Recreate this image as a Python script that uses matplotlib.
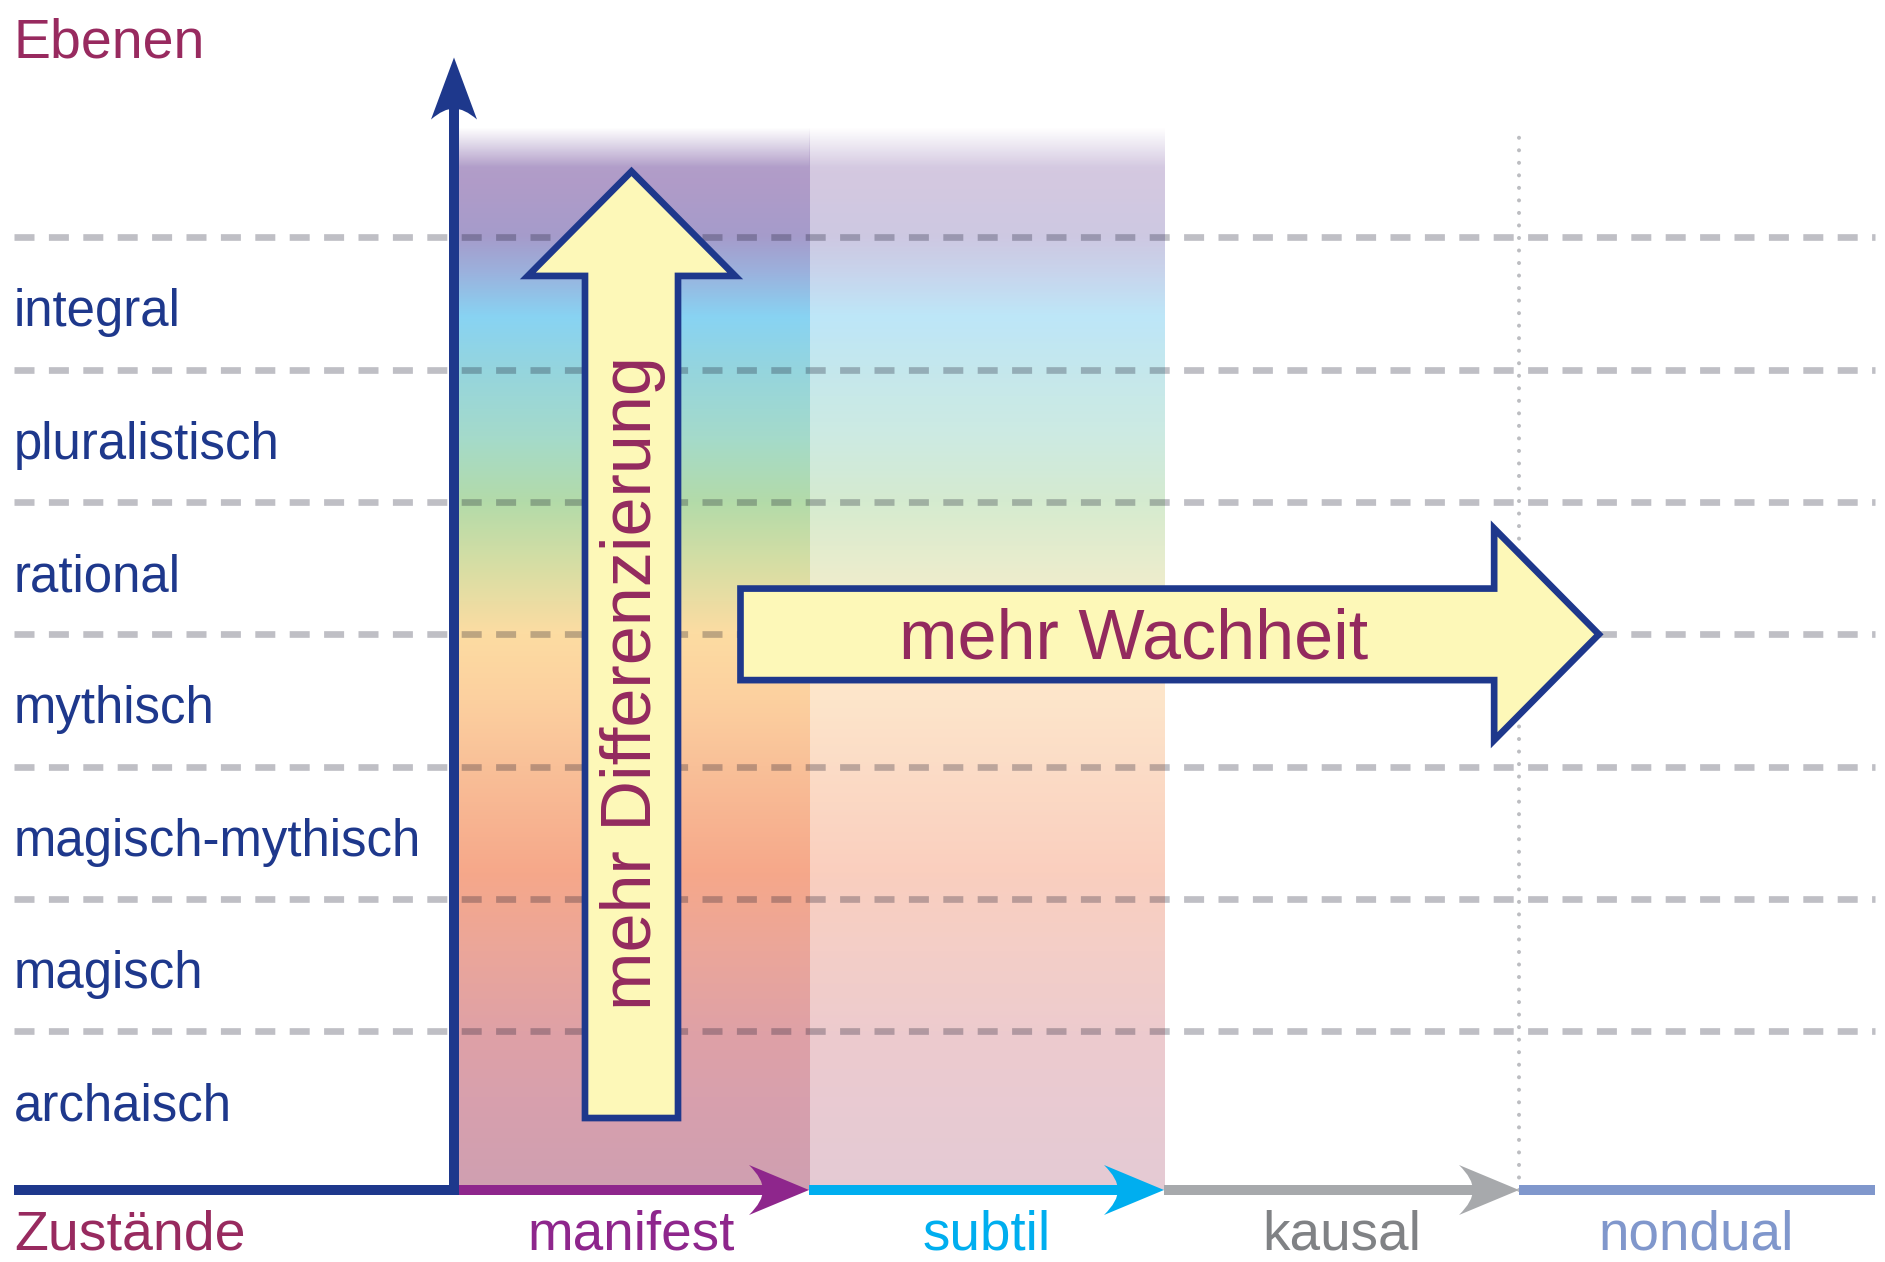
import numpy as np
import matplotlib
matplotlib.use("Agg")
import matplotlib.pyplot as plt
from matplotlib.patches import Polygon, PathPatch
from matplotlib.path import Path
from matplotlib.colors import to_rgb

# ---------------- data ----------------
levels = ["archaisch", "magisch", "magisch-mythisch", "mythisch",
          "rational", "pluralistisch", "integral"]
states = ["manifest", "subtil", "kausal", "nondual"]
state_line_colors = ["#8e268c", "#00aeef", "#a7a9ac", "#8097cc"]
state_text_colors = ["#8e268c", "#00aeef", "#808285", "#8097cc"]
state_has_head = [True, True, True, False]
state_shading = [1.0, 0.55, 0.0, 0.0]      # opacity of the level colour band per state
y_title = "Ebenen"
x_title = "Zustände"
up_text = "mehr Differenzierung"
right_text = "mehr Wachheit"

# colour of the level spectrum (position on level axis, colour)
grad_pos = [-0.2, 0.5, 1.0, 1.6, 2.2, 3.0, 3.5, 4.0, 4.5, 5.0, 5.5, 6.0, 6.4, 6.75, 7.0, 7.4, 7.85]
grad_col = ["#cf9fb1", "#d8a0ad", "#dfa1a6", "#eba69a", "#f6a88a", "#f9c098", "#fcd09f",
            "#fddca2", "#d8dea4", "#b3dba9", "#a4dacb", "#95d5de", "#88d3f3", "#9cb0dc",
            "#a59ccb", "#b09bc8", "#b5a4cc"]

# ---------------- style ----------------
FONT = "Liberation Sans"
plt.rcParams["font.family"] = [FONT, "DejaVu Sans"]
BLUE = "#1e388c"
MAROON = "#982a5f"
YELLOW = "#fdf8b8"
AXIS_LW = 7.2
OUTLINE_LW = 4.8

W, H = 1885, 1262
fig = plt.figure(figsize=(W / 100, H / 100), dpi=100)
ax = fig.add_axes([0, 0, 1, 1])
SX, SY = 355.0, 132.3          # pixels per unit (x: state, y: level)
x0_px, y0_px = 454.0, 1190.0   # pixel position of origin (axis corner)
Y_BASE = -0.2
ax.set_xlim(-x0_px / SX, (W - x0_px) / SX)
ax.set_ylim(Y_BASE - (H - y0_px) / SY, Y_BASE + y0_px / SY)
ax.axis("off")

X_LEFT = -1.24
X_RIGHT = 4.003
n_levels = len(levels)
n_states = len(states)


def head_path(tip, direction, L, w, d):
    """Arrow head with curved back; L, w, d in pixels."""
    pts = [(0, 0), (-L, w), (-L + d, 0.45 * w), (-L + d, 0),
           (-L + d, -0.45 * w), (-L, -w), (0, 0)]
    codes = [Path.MOVETO, Path.LINETO, Path.CURVE3, Path.CURVE3,
             Path.CURVE3, Path.CURVE3, Path.CLOSEPOLY]
    out = []
    for u, v in pts:
        if direction == "right":
            out.append((tip[0] + u / SX, tip[1] + v / SY))
        else:
            out.append((tip[0] + v / SX, tip[1] + u / SY))
    return Path(out, codes)


# ---------- colour bands ----------
y_top = 7.83
ys = np.linspace(Y_BASE, y_top, 900)
rgb = np.array([to_rgb(c) for c in grad_col])
band = np.stack([np.interp(ys, grad_pos, rgb[:, k]) for k in range(3)], axis=1)
fade = np.clip((y_top - ys) / 0.3, 0, 1)
for i, s in enumerate(state_shading):
    if s <= 0:
        continue
    img = np.ones((len(ys), 1, 4))
    img[:, 0, :3] = band
    img[:, 0, 3] = fade * s
    ax.imshow(img, extent=(i, i + 1, Y_BASE, y_top), origin="lower",
              aspect="auto", interpolation="bilinear", zorder=1)

# ---------- dashed level boundaries ----------
for k in range(1, n_levels + 1):
    ax.plot([X_LEFT, X_RIGHT], [k, k], color="#14142a", alpha=0.27, lw=4.8,
            ls=(0, (3.0, 2.16)), dash_capstyle="butt", zorder=2)

# ---------- dotted separator before nondual ----------
ax.plot([3, 3], [Y_BASE, 7.79], color="#bcbdc1", lw=2.9,
        ls=(0, (0.01, 3.1)), dash_capstyle="round", zorder=2)

# ---------- axes ----------
axis_top = 8.36
ax.plot([X_LEFT, 0, 0], [Y_BASE, Y_BASE, axis_top - 50 / SY], color=BLUE, lw=AXIS_LW,
        solid_joinstyle="miter", solid_capstyle="butt", zorder=4)
ax.add_patch(PathPatch(head_path((0, axis_top), "up", 62, 23, 11),
                       facecolor=BLUE, edgecolor="none", zorder=4))

for i, (c, hh) in enumerate(zip(state_line_colors, state_has_head)):
    x_start = i + (5 / SX if i == 0 else 0)
    x_end = i + 1 if hh else X_RIGHT
    ax.plot([x_start, x_end - (40 / SX if hh else 0)], [Y_BASE, Y_BASE], color=c,
            lw=AXIS_LW, solid_capstyle="butt", zorder=4)
    if hh:
        ax.add_patch(PathPatch(head_path((i + 1, Y_BASE), "right", 60, 25, 14),
                               facecolor=c, edgecolor="none", zorder=4))

# ---------- big yellow arrows ----------
cx, sw, hw = 0.5, 0.131, 0.292
yb, yh, yt = 0.344, 6.709, 7.499
up = [(cx - sw, yb), (cx + sw, yb), (cx + sw, yh), (cx + hw, yh), (cx, yt),
      (cx - hw, yh), (cx - sw, yh)]
ax.add_patch(Polygon(up, closed=True, facecolor=YELLOW, edgecolor=BLUE, lw=OUTLINE_LW,
                     joinstyle="miter", zorder=5))
ax.text(cx + 0.005, 3.629, up_text, rotation=90, fontsize=50.5, color="#932a5e",
        ha="center", va="center", zorder=6)

cy, sh, hh_ = 4.0, 0.346, 0.80
xl, xh, xt = 0.807, 2.93, 3.225
rt = [(xl, cy - sh), (xh, cy - sh), (xh, cy - hh_), (xt, cy), (xh, cy + hh_),
      (xh, cy + sh), (xl, cy + sh)]
ax.add_patch(Polygon(rt, closed=True, facecolor=YELLOW, edgecolor=BLUE, lw=OUTLINE_LW,
                     joinstyle="miter", zorder=5))
ax.text(1.915, cy - 0.18, right_text, fontsize=50.5, color="#932a5e",
        ha="center", va="baseline", zorder=6)

# ---------- labels ----------
for k, name in enumerate(levels):
    ax.text(X_LEFT, k + 0.327, name, fontsize=36.7, color=BLUE,
            ha="left", va="baseline", zorder=6)
ax.text(X_LEFT, 8.363, y_title, fontsize=40, color=MAROON, ha="left", va="baseline")
Y_STATE_LABEL = -0.646
ax.text(X_LEFT, Y_STATE_LABEL, x_title, fontsize=40, color=MAROON, ha="left", va="baseline")
for i, (name, c) in enumerate(zip(states, state_text_colors)):
    ax.text(i + 0.5, Y_STATE_LABEL, name, fontsize=39.5, color=c, ha="center", va="baseline")

fig.savefig("out.png", dpi=100, facecolor="white")
